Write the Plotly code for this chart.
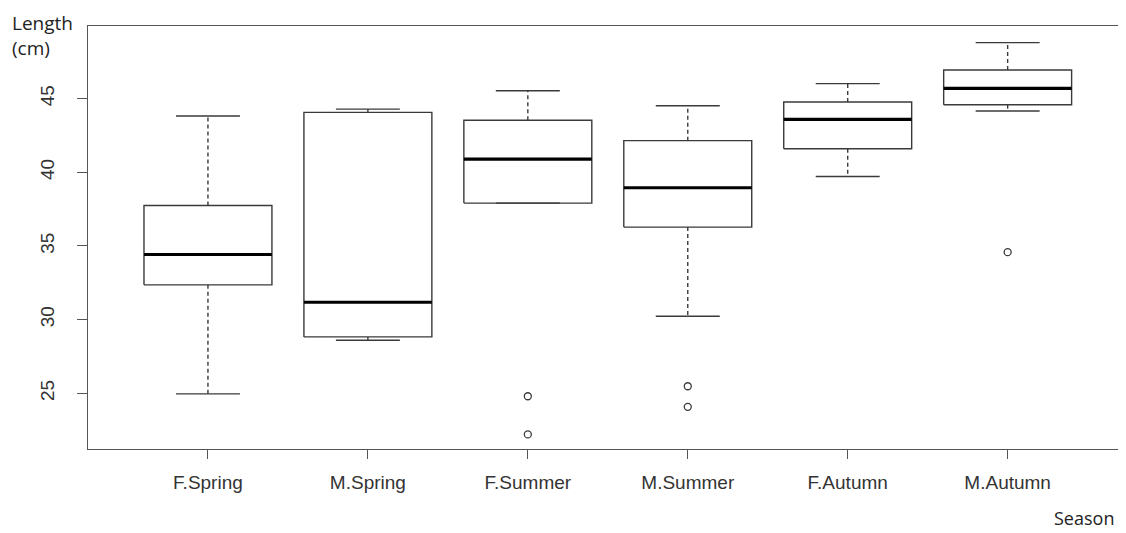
import plotly.graph_objects as go

categories = ["F.Spring", "M.Spring", "F.Summer", "M.Summer", "F.Autumn", "M.Autumn"]
lower_whisker = [24.96, 28.60, 37.91, 30.23, 39.72, 44.16]
q1 = [32.36, 28.83, 37.91, 36.28, 41.60, 44.59]
median = [34.42, 31.18, 40.90, 38.95, 43.59, 45.70]
q3 = [37.75, 44.07, 43.53, 42.15, 44.77, 46.94]
upper_whisker = [43.82, 44.29, 45.54, 44.52, 46.02, 48.80]
outlier_cat = ["F.Summer", "F.Summer", "M.Summer", "M.Summer", "M.Autumn"]
outlier_val = [24.80, 22.21, 25.48, 24.08, 34.58]
y_ticks = [25, 30, 35, 40, 45]

BOX_HALF = 0.4
CAP_HALF = 0.2
pos = {c: i + 1 for i, c in enumerate(categories)}

box_x, box_y = [], []
med_x, med_y = [], []
wh_x, wh_y = [], []
cap_x, cap_y = [], []
for c, lw, a, m, b, uw in zip(categories, lower_whisker, q1, median, q3, upper_whisker):
    p = pos[c]
    box_x += [p - BOX_HALF, p + BOX_HALF, p + BOX_HALF, p - BOX_HALF, p - BOX_HALF, None]
    box_y += [a, a, b, b, a, None]
    med_x += [p - BOX_HALF, p + BOX_HALF, None]
    med_y += [m, m, None]
    wh_x += [p, p, None, p, p, None]
    wh_y += [b, uw, None, a, lw, None]
    cap_x += [p - CAP_HALF, p + CAP_HALF, None, p - CAP_HALF, p + CAP_HALF, None]
    cap_y += [uw, uw, None, lw, lw, None]

line_col = "#3a3a3a"
fig = go.Figure()
fig.add_trace(go.Scatter(x=wh_x, y=wh_y, mode="lines",
                         line=dict(color=line_col, width=1.4, dash="4px,3px"), hoverinfo="skip"))
fig.add_trace(go.Scatter(x=cap_x, y=cap_y, mode="lines",
                         line=dict(color=line_col, width=1.4), hoverinfo="skip"))
fig.add_trace(go.Scatter(x=box_x, y=box_y, mode="lines",
                         line=dict(color=line_col, width=1.4), hoverinfo="skip"))
fig.add_trace(go.Scatter(x=med_x, y=med_y, mode="lines",
                         line=dict(color="#000000", width=3.2), hoverinfo="skip"))
fig.add_trace(go.Scatter(x=[pos[c] for c in outlier_cat], y=outlier_val, mode="markers",
                         marker=dict(symbol="circle-open", size=7, color=line_col,
                                     line=dict(width=1.3, color=line_col)),
                         hoverinfo="skip"))

W, H = 1118, 525
L, T, B = 80, 18, 84
PW, PH = W - L, H - T - B

tick_font = dict(family="Liberation Sans, Arial, sans-serif", size=19, color="#333333")
title_font = dict(family="Open Sans, sans-serif", size=18, color="#222222")
fig.update_layout(
    width=W, height=H,
    margin=dict(l=L, r=0, t=T, b=B, autoexpand=False),
    plot_bgcolor="white", paper_bgcolor="white",
    showlegend=False,
    xaxis=dict(range=[0.25, 6.74], tickmode="array",
               tickvals=[pos[c] for c in categories], ticktext=categories,
               showgrid=False, zeroline=False, showline=True, mirror=True,
               linecolor="#555555", linewidth=1.4,
               ticks="outside", ticklen=9, tickwidth=1.4, tickcolor="#555555",
               ticklabelstandoff=7, tickfont=tick_font),
    yaxis=dict(range=[21.22, 49.93], tickmode="array", tickvals=y_ticks,
               ticktext=[str(v) for v in y_ticks], tickangle=-90,
               showgrid=False, zeroline=False, showline=True,
               linecolor="#555555", linewidth=1.4,
               ticks="outside", ticklen=10, tickwidth=1.4, tickcolor="#555555",
               ticklabelstandoff=15, tickfont=tick_font),
)
fig.add_annotation(text="Length<br>(cm)", xref="paper", yref="paper",
                   x=(2 - L) / PW, y=(PH + T - 0) / PH, xanchor="left", yanchor="top",
                   align="left", showarrow=False,
                   font=dict(family="Open Sans, sans-serif", size=19, color="#222222"))
fig.add_annotation(text="Season", xref="paper", yref="paper",
                   x=(1108 - L) / PW, y=(T + PH - 510) / PH, xanchor="right", yanchor="middle",
                   showarrow=False, font=title_font)

fig.write_html("out.html")
